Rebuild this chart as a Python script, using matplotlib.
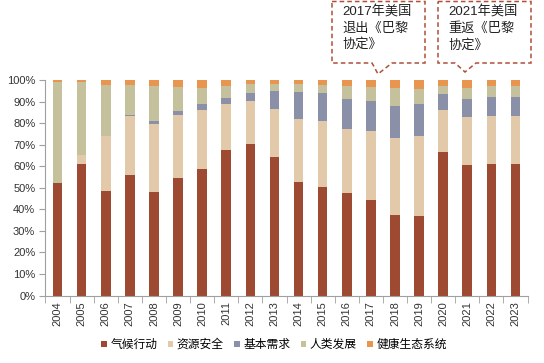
import matplotlib
matplotlib.use("Agg")
import matplotlib.pyplot as plt
from matplotlib.patches import Polygon
import numpy as np

plt.rcParams['font.family'] = ['Liberation Sans', 'Noto Sans CJK SC', 'DejaVu Sans']

years = [str(y) for y in range(2004, 2024)]
climate  = [52.2, 60.8, 48.5, 56.0, 48.1, 54.7, 58.8, 67.4, 70.2, 64.3,
            52.7, 50.4, 47.6, 44.5, 37.4, 36.7, 66.4, 60.5, 61.1, 61.1]
resource = [0.0, 4.3, 25.5, 27.3, 31.3, 28.9, 27.4, 21.6, 19.9, 22.4,
            29.2, 30.4, 29.8, 31.8, 35.5, 37.4, 19.8, 22.3, 22.3, 22.3]
basic    = [0.0, 0.0, 0.0, 0.4, 1.5, 1.8, 2.5, 2.8, 3.7, 8.3,
            12.7, 13.3, 13.9, 13.9, 15.2, 14.9, 7.1, 8.5, 8.5, 8.5]
human    = [47.0, 34.1, 23.8, 14.1, 16.3, 11.5, 7.7, 5.4, 4.2, 3.3,
            3.5, 3.6, 6.1, 6.7, 8.3, 6.8, 4.1, 5.1, 5.3, 5.3]
health   = [0.8, 0.8, 2.2, 2.2, 2.8, 3.1, 3.6, 2.8, 2.0, 1.7,
            1.9, 2.3, 2.6, 3.1, 3.6, 4.2, 2.6, 3.6, 2.8, 2.8]

series_names = ['气候行动', '资源安全', '基本需求', '人类发展', '健康生态系统']
series_vals = [climate, resource, basic, human, health]
colors = ['#9E4A32', '#E2C9AA', '#8A90A8', '#C6C19D', '#E8964F']
yticks = [0, 10, 20, 30, 40, 50, 60, 70, 80, 90, 100]
notes = ['2017年美国\n退出《巴黎\n协定》', '2021年美国\n重返《巴黎\n协定》']

W, H = 544, 363
fig = plt.figure(figsize=(W/100, H/100), dpi=100)

def fx(px):
    return px / W

def fy(py):
    return 1 - py / H

ax = fig.add_axes([fx(45), fy(295.5), fx(528) - fx(45), fy(80) - fy(295.5)])

x = np.arange(len(years))
bottom = np.zeros(len(years))
handles = []
for name, vals, c in zip(series_names, series_vals, colors):
    v = np.array(vals)
    b = ax.bar(x, v, 0.4, bottom=bottom, color=c, label=name, edgecolor='none')
    handles.append(b)
    bottom += v

ax.set_xlim(-0.52, len(years) - 0.48)
ax.set_ylim(0, 100)
ax.set_yticks(yticks)
ax.set_yticklabels([f'{t}%' for t in yticks], fontsize=8, color='#333333')
ax.set_xticks(x)
ax.set_xticklabels(years, rotation=90, fontsize=8, color='#333333')
ax.set_xticks(np.arange(-0.5, len(years), 1.0), minor=True)
ax.tick_params(axis='x', which='major', length=0, pad=4)
ax.tick_params(axis='x', which='minor', length=5, color='#A0A0A0', direction='out')
ax.tick_params(axis='y', length=4, color='#A0A0A0', direction='out', pad=3)
for s in ['top', 'right']:
    ax.spines[s].set_visible(False)
for s in ['left', 'bottom']:
    ax.spines[s].set_color('#A0A0A0')
    ax.spines[s].set_linewidth(0.8)

# Callouts
def callout(x0, x1, y0, y1, b0, b1, tip, text):
    pts = [(x0, y0), (x1, y0), (x1, y1), (b1, y1), tip, (b0, y1), (x0, y1)]
    poly = Polygon([(fx(px), fy(py)) for px, py in pts], closed=True,
                   transform=fig.transFigure, facecolor='white',
                   edgecolor='#B0503A', linestyle=(0, (3, 2)), linewidth=1.1)
    fig.add_artist(poly)
    fig.text(fx(x0 + 10), fy(6), text, transform=fig.transFigure,
             ha='left', va='top', fontsize=9.5, color='#222222',
             linespacing=1.35, family=['Liberation Sans', 'Noto Sans CJK SC'])

callout(332, 425, 1.5, 63, 372, 392, (378, 74), notes[0])
callout(438, 531, 1.5, 63, 455, 476, (465, 72), notes[1])

fig.legend(handles, series_names, loc='center', bbox_to_anchor=(fx(274), fy(345)),
           ncol=5, frameon=False, fontsize=8.5, handlelength=0.45, handleheight=0.45,
           handletextpad=0.3, columnspacing=0.9)

fig.savefig('out.png', dpi=100)
